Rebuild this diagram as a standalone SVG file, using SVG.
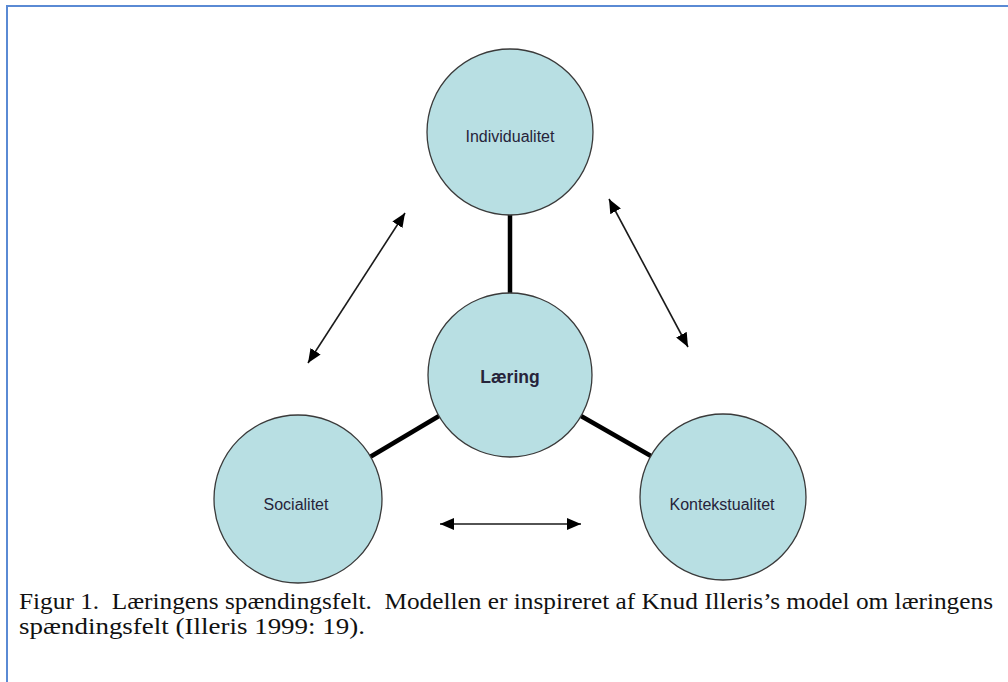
<svg xmlns="http://www.w3.org/2000/svg" width="1008" height="682" viewBox="0 0 1008 682">
<style>
.node circle{fill:#b8dfe3;stroke:#3a3a3a;stroke-width:1.3}
.lbl{font-family:"Liberation Sans",Arial,sans-serif;font-size:16px;fill:#26243a;text-anchor:middle}
.bold{font-weight:bold;font-size:17.5px}
.thick{stroke:#000;stroke-width:4.5;fill:none}
.arrow{stroke:#1a1a1a;stroke-width:1.6;fill:none;marker-start:url(#ah);marker-end:url(#ah)}
.cap{font-family:"Liberation Serif","Times New Roman",serif;font-size:22.5px;fill:#111}
</style>
<defs>
<marker id="ah" markerUnits="userSpaceOnUse" markerWidth="15" markerHeight="12" refX="14" refY="6" orient="auto-start-reverse" viewBox="0 0 15 12">
<path d="M0,0 L14,6 L0,12 z" fill="#000"/>
</marker>
</defs>
<rect width="1008" height="682" fill="#fff"/>
<path d="M7,682 V6 H1008" stroke="#5a8ad4" stroke-width="2" fill="none"/>
<g id="connectors">
<line class="thick" x1="510" y1="214" x2="510" y2="294"/>
<line class="thick" x1="439" y1="416" x2="370" y2="457"/>
<line class="thick" x1="581" y1="416" x2="651" y2="456"/>
<line class="arrow" x1="405" y1="213" x2="308" y2="363"/>
<line class="arrow" x1="609" y1="199" x2="688" y2="347"/>
<line class="arrow" x1="440" y1="524" x2="581" y2="524"/>
</g>
<g id="node-individualitet" class="node">
<circle cx="510" cy="132" r="83"/>
<text class="lbl" x="510" y="142">Individualitet</text>
</g>
<g id="node-laering" class="node">
<circle cx="510" cy="375" r="82"/>
<text class="lbl bold" x="510" y="383">Læring</text>
</g>
<g id="node-socialitet" class="node">
<circle cx="298" cy="499" r="84"/>
<text class="lbl" x="296" y="510">Socialitet</text>
</g>
<g id="node-kontekstualitet" class="node">
<circle cx="723" cy="497" r="83"/>
<text class="lbl" x="722" y="510">Kontekstualitet</text>
</g>
<g id="caption">
<text class="cap" x="19" y="609" textLength="974" lengthAdjust="spacingAndGlyphs" xml:space="preserve">Figur 1.  Læringens spændingsfelt.  Modellen er inspireret af Knud Illeris’s model om læringens</text>
<text class="cap" x="19" y="634" textLength="346" lengthAdjust="spacingAndGlyphs">spændingsfelt (Illeris 1999: 19).</text>
</g>
</svg>
